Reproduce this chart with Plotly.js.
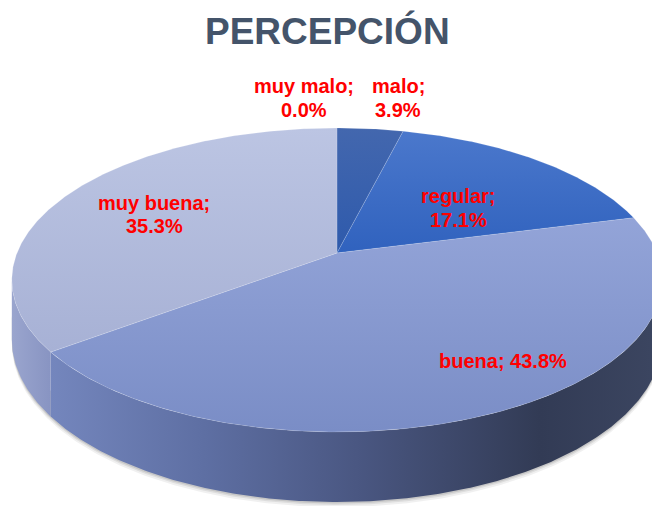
<!DOCTYPE html>
<html>
<head>
<meta charset="utf-8">
<script src="https://cdn.plot.ly/plotly-3.0.1.min.js"></script>
<style>html,body{margin:0;padding:0;background:#fff;}#chart{width:652px;height:506px;}</style>
</head>
<body>
<div id="chart"></div>
<script>
// ---- data ----
const categories = ['muy malo', 'malo', 'regular', 'buena', 'muy buena'];
const values = [0.0, 3.9, 17.1, 43.8, 35.3];
const chartTitle = 'PERCEPCIÓN';

// ---- styles ---- [upper colour, lower colour]
const topColors = [
  ['#3F62A8', '#2E59A8'],
  ['#4367AE', '#2E5AAC'],
  ['#4B78CC', '#3062BE'],
  ['#93A4D8', '#7A8DC6'],
  ['#BCC5E3', '#A7B1D5']
];
const sideScales = [
  [[0, '#3F62A8'], [1, '#2E59A8']],
  [[0, '#4367AE'], [1, '#2E5AAC']],
  [[0, '#3A5FA8'], [1, '#2A4F95']],
  [[0, '#7486BD'], [0.25, '#5E6FA3'], [0.5, '#4A5782'], [0.8, '#323B55'], [1, '#3C4661']],
  [[0, '#9AA5CE'], [1, '#8894C2']]
];
// label layout: [x center, baseline of each line]
const labelLayout = [
  {x: 304, ys: [93, 117]},
  {x: 398, ys: [93, 117]},
  {x: 458, ys: [203, 227]},
  {x: 503, ys: [368]},
  {x: 154, ys: [210, 233]}
];

// ---- 3D pie projection ----
const G = {cx: 337, cy: 253, A: 320, B: 147.2, p: 0.1776, H: 57.6};
function proj(theta, depth) {
  const t = theta * Math.PI / 180, u = Math.sin(t), v = Math.cos(t), w = 1 + G.p * v;
  return [G.cx + G.A * u / w, G.cy - G.B * v / w + depth * G.H / w];
}
function arc(a0, a1, depth) {
  const pts = [];
  const n = Math.max(2, Math.ceil(Math.abs(a1 - a0) / 0.5));
  for (let i = 0; i <= n; i++) pts.push(proj(a0 + (a1 - a0) * i / n, depth));
  return pts;
}

const total = values.reduce((s, v) => s + v, 0);
const bounds = [];
let acc = 0;
values.forEach(v => { const a0 = acc / total * 360; acc += v; bounds.push([a0, acc / total * 360]); });

const thL = Math.acos(-G.p) * 180 / Math.PI;
const thR = 360 - thL;

const traces = [];
// shadow
[[5, 0.06], [3, 0.08], [1.5, 0.1]].forEach(([off, op]) => {
  const pts = arc(thL, thR, 1).map(([x, y]) => [x, y + off]);
  const top = arc(thR, thL, 0.6);
  const all = pts.concat(top);
  traces.push({type: 'scatter', mode: 'lines', x: all.map(p => p[0]), y: all.map(p => p[1]),
    fill: 'toself', fillcolor: 'rgba(0,0,0,' + op + ')', line: {width: 0}, hoverinfo: 'skip'});
});
// side walls
bounds.forEach(([a0, a1], i) => {
  const s0 = Math.max(a0, thL), s1 = Math.min(a1, thR);
  if (s1 <= s0) return;
  const pts = arc(s0, s1, 0).concat(arc(s1, s0, 1));
  traces.push({type: 'scatter', mode: 'lines', x: pts.map(p => p[0]), y: pts.map(p => p[1]),
    fill: 'toself', fillgradient: {type: 'horizontal', colorscale: sideScales[i]},
    line: {width: 0}, hoverinfo: 'skip'});
});
// top faces (axis is reversed, so colourscale 0 = lower edge on screen)
bounds.forEach(([a0, a1], i) => {
  if (a1 - a0 <= 0) return;
  const pts = [[G.cx, G.cy]].concat(arc(a0, a1, 0));
  pts.push([G.cx, G.cy]);
  traces.push({type: 'scatter', mode: 'lines', x: pts.map(p => p[0]), y: pts.map(p => p[1]),
    fill: 'toself', fillgradient: {type: 'vertical', colorscale: [[0, topColors[i][1]], [1, topColors[i][0]]]},
    line: {width: 0.6, color: 'rgba(255,255,255,0.25)'}, hoverinfo: 'skip'});
});

// labels
const annotations = [];
categories.forEach((c, i) => {
  const pct = values[i].toFixed(1) + '%';
  const L = labelLayout[i];
  const lines = L.ys.length === 1 ? [c + '; ' + pct] : [c + ';', pct];
  lines.forEach((t, j) => {
    annotations.push({x: L.x, y: L.ys[j] - 7, xref: 'x', yref: 'y', text: t, showarrow: false,
      xanchor: 'center', yanchor: 'middle',
      font: {family: 'Liberation Sans, Arial, sans-serif', size: 20, color: '#FF0000', weight: 'bold'}});
  });
});

const layout = {
  width: 652, height: 506,
  margin: {l: 0, r: 0, t: 0, b: 0},
  paper_bgcolor: '#ffffff', plot_bgcolor: '#ffffff',
  showlegend: false,
  title: {text: chartTitle, x: 0.502, xanchor: 'center', y: 1 - 31 / 506, yanchor: 'middle',
    font: {family: 'Liberation Sans, Arial, sans-serif', size: 37, color: '#44546A', weight: 'bold'}},
  xaxis: {range: [0, 652], visible: false, fixedrange: true},
  yaxis: {range: [506, 0], visible: false, fixedrange: true},
  annotations: annotations
};
Plotly.newPlot('chart', traces, layout, {displayModeBar: false, staticPlot: true});
</script>
</body>
</html>
